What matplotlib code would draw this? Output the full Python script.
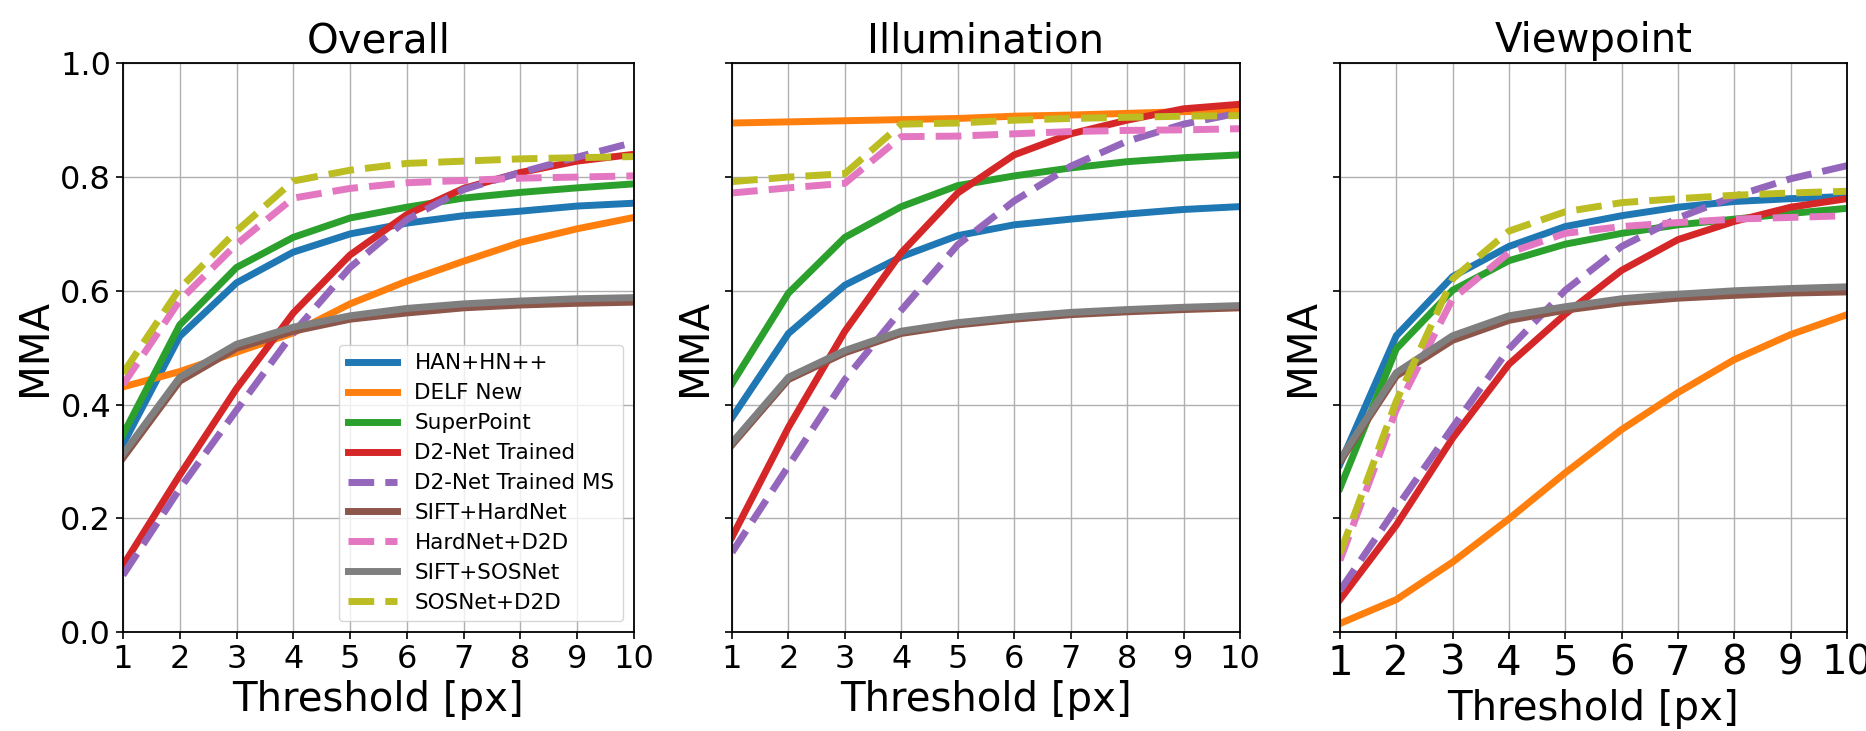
import matplotlib
matplotlib.use("Agg")
import matplotlib.pyplot as plt
import numpy as np

# thresholds
thresholds = [1, 2, 3, 4, 5, 6, 7, 8, 9, 10]

methods = ["HAN+HN++", "DELF New", "SuperPoint", "D2-Net Trained", "D2-Net Trained MS",
           "SIFT+HardNet", "HardNet+D2D", "SIFT+SOSNet", "SOSNet+D2D"]
colors = ["#1f77b4", "#ff7f0e", "#2ca02c", "#d62728", "#9467bd",
          "#8c564b", "#e377c2", "#7f7f7f", "#bcbd22"]
styles = ["-", "-", "-", "-", "--", "-", "--", "-", "--"]

# Overall
overall = {
    "HAN+HN++":          [0.330, 0.520, 0.614, 0.668, 0.700, 0.719, 0.732, 0.740, 0.749, 0.754],
    "DELF New":          [0.431, 0.458, 0.492, 0.526, 0.577, 0.617, 0.652, 0.685, 0.709, 0.729],
    "SuperPoint":        [0.347, 0.540, 0.641, 0.694, 0.728, 0.747, 0.763, 0.773, 0.781, 0.788],
    "D2-Net Trained":    [0.117, 0.276, 0.428, 0.561, 0.663, 0.734, 0.780, 0.808, 0.828, 0.840],
    "D2-Net Trained MS": [0.100, 0.252, 0.390, 0.526, 0.641, 0.725, 0.778, 0.808, 0.835, 0.861],
    "SIFT+HardNet":      [0.306, 0.441, 0.499, 0.529, 0.550, 0.561, 0.570, 0.575, 0.578, 0.580],
    "HardNet+D2D":       [0.435, 0.583, 0.682, 0.763, 0.780, 0.790, 0.794, 0.798, 0.800, 0.802],
    "SIFT+SOSNet":       [0.313, 0.448, 0.506, 0.536, 0.556, 0.569, 0.577, 0.582, 0.586, 0.588],
    "SOSNet+D2D":        [0.455, 0.604, 0.705, 0.793, 0.812, 0.824, 0.828, 0.832, 0.834, 0.836],
}

# Illumination
illumination = {
    "HAN+HN++":          [0.377, 0.525, 0.610, 0.660, 0.697, 0.716, 0.726, 0.735, 0.743, 0.748],
    "DELF New":          [0.895, 0.897, 0.899, 0.901, 0.903, 0.907, 0.909, 0.912, 0.915, 0.917],
    "SuperPoint":        [0.437, 0.596, 0.694, 0.748, 0.785, 0.802, 0.816, 0.827, 0.834, 0.839],
    "D2-Net Trained":    [0.167, 0.360, 0.529, 0.667, 0.772, 0.839, 0.876, 0.900, 0.920, 0.928],
    "D2-Net Trained MS": [0.140, 0.292, 0.444, 0.566, 0.681, 0.758, 0.819, 0.863, 0.893, 0.913],
    "SIFT+HardNet":      [0.329, 0.444, 0.491, 0.525, 0.540, 0.550, 0.558, 0.563, 0.567, 0.570],
    "HardNet+D2D":       [0.772, 0.781, 0.789, 0.871, 0.872, 0.876, 0.880, 0.882, 0.883, 0.885],
    "SIFT+SOSNet":       [0.333, 0.448, 0.495, 0.529, 0.544, 0.554, 0.562, 0.567, 0.571, 0.574],
    "SOSNet+D2D":        [0.792, 0.800, 0.806, 0.893, 0.895, 0.900, 0.903, 0.905, 0.907, 0.908],
}

# Viewpoint
viewpoint = {
    "HAN+HN++":          [0.295, 0.521, 0.625, 0.678, 0.713, 0.732, 0.747, 0.757, 0.762, 0.766],
    "DELF New":          [0.015, 0.057, 0.123, 0.199, 0.280, 0.356, 0.421, 0.479, 0.523, 0.558],
    "SuperPoint":        [0.253, 0.498, 0.601, 0.653, 0.682, 0.701, 0.716, 0.726, 0.736, 0.745],
    "D2-Net Trained":    [0.057, 0.188, 0.341, 0.471, 0.559, 0.636, 0.690, 0.722, 0.747, 0.762],
    "D2-Net Trained MS": [0.073, 0.218, 0.360, 0.498, 0.601, 0.678, 0.728, 0.766, 0.797, 0.820],
    "SIFT+HardNet":      [0.299, 0.450, 0.513, 0.548, 0.566, 0.579, 0.587, 0.592, 0.596, 0.598],
    "HardNet+D2D":       [0.126, 0.391, 0.586, 0.667, 0.701, 0.713, 0.720, 0.726, 0.729, 0.732],
    "SIFT+SOSNet":       [0.303, 0.456, 0.521, 0.556, 0.572, 0.586, 0.594, 0.600, 0.604, 0.607],
    "SOSNet+D2D":        [0.138, 0.406, 0.621, 0.705, 0.739, 0.755, 0.762, 0.768, 0.772, 0.775],
}

titles = ["Overall", "Illumination", "Viewpoint"]
panels = [overall, illumination, viewpoint]

fig = plt.figure(figsize=(18.66, 7.31), dpi=100)
positions = [[0.0659, 0.1354, 0.2738, 0.778],
             [0.3923, 0.1354, 0.2722, 0.778],
             [0.7181, 0.1354, 0.2717, 0.778]]
tick_sizes = [23, 23, 29]

for i, (data, title) in enumerate(zip(panels, titles)):
    ax = fig.add_axes(positions[i])
    for name, c, ls in zip(methods, colors, styles):
        ax.plot(thresholds, data[name], color=c, linestyle=ls, linewidth=5, label=name)
    ax.set_xlim(1, 10)
    ax.set_ylim(0, 1)
    ax.set_xticks(thresholds)
    ax.set_yticks([0.0, 0.2, 0.4, 0.6, 0.8, 1.0])
    ax.grid(True, color="#b0b0b0", linewidth=1.0)
    ax.set_axisbelow(True)
    ax.tick_params(axis="both", labelsize=tick_sizes[i], length=5, width=1.2)
    for sp in ax.spines.values():
        sp.set_linewidth(1.3)
    if i > 0:
        ax.set_yticklabels([])
    ax.set_title(title, fontsize=29, pad=8)
    ax.set_xlabel("Threshold [px]", fontsize=29)
    ax.set_ylabel("MMA", fontsize=29)
    if i == 0:
        ax.legend(loc="lower right", fontsize=15.5, handlelength=2.3, labelspacing=0.46)

fig.savefig("out.png", dpi=100)
